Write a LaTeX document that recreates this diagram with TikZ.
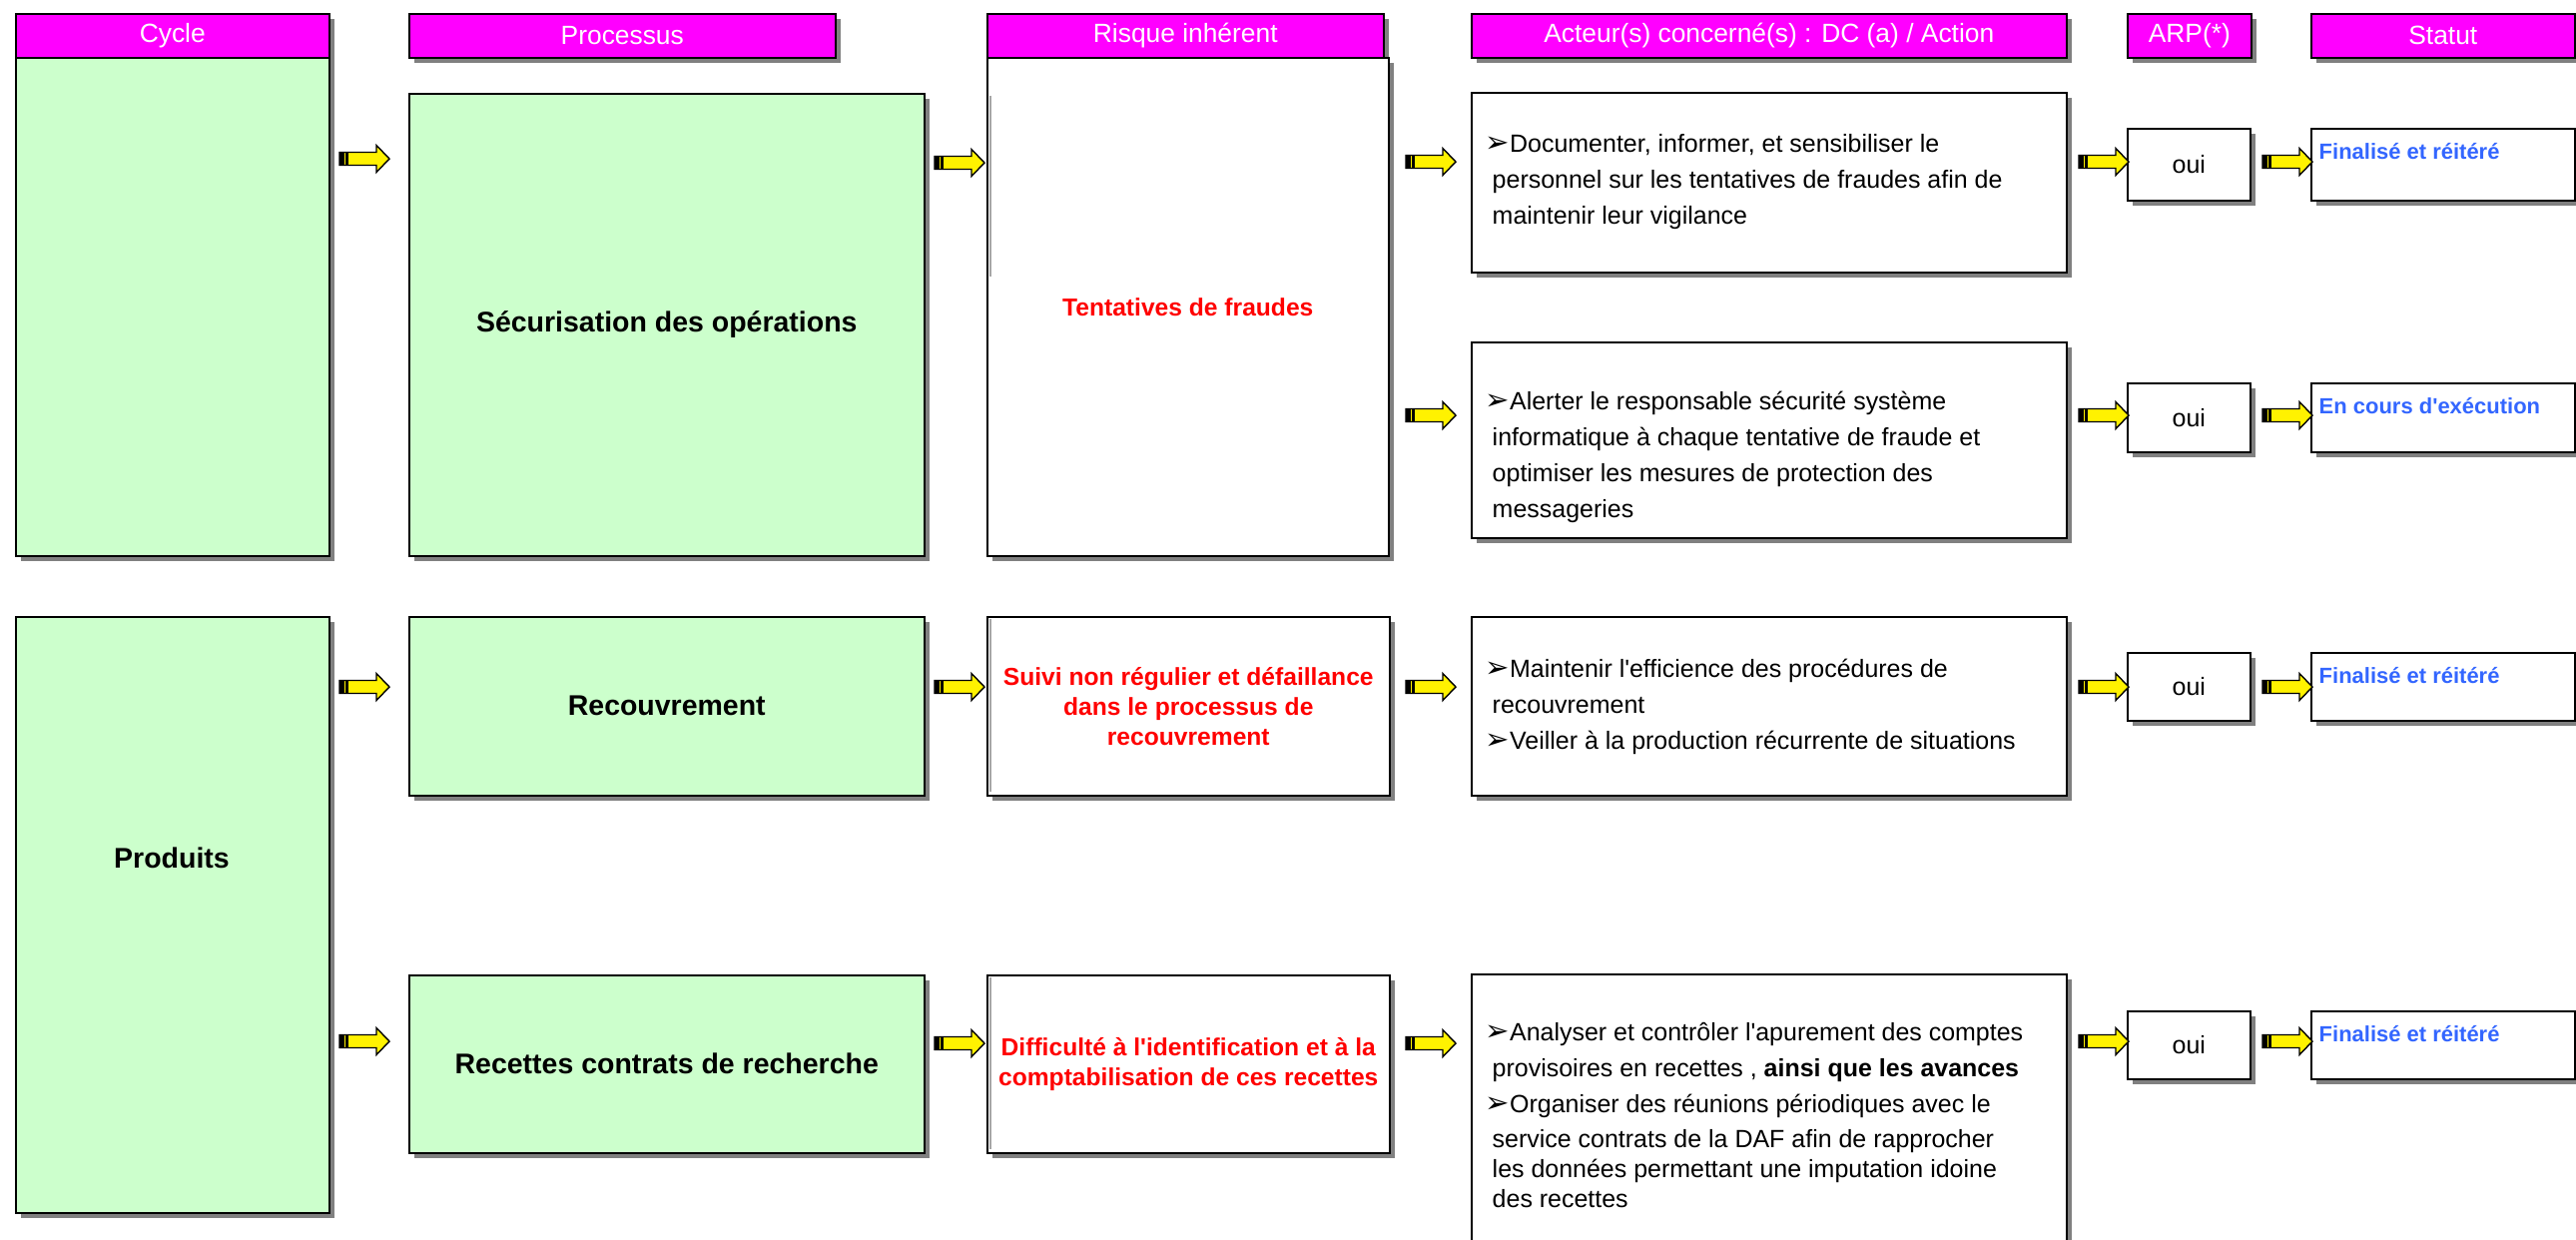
\documentclass[tikz,border=0pt]{standalone}
\usepackage{fontspec}
\setmainfont{Liberation Sans}
\newfontfamily\dingfont{DejaVu Sans}
\usepackage{xcolor}
\usetikzlibrary{shadows}
\definecolor{hdrmagenta}{RGB}{255,0,255}
\definecolor{boxgreen}{RGB}{204,255,204}
\definecolor{riskred}{RGB}{255,0,0}
\definecolor{statblue}{RGB}{51,102,255}
\definecolor{shadowgray}{RGB}{128,128,128}
\newcommand{\bul}{{\dingfont\fontsize{8.3}{8}\selectfont\char"27A2}}
\newcommand{\q}{\textquotesingle}

\begin{document}
\begin{tikzpicture}[x=0.01cm, y=-0.01cm,
    boxsize/.style 2 args={minimum width=#1*0.01cm, minimum height=#2*0.01cm},
    boxshadow/.style={drop shadow={shadow xshift=0.05cm, shadow yshift=-0.05cm, fill=shadowgray, opacity=1}},
    frame/.style={draw, line width=0.45pt, anchor=north west, inner sep=0pt, boxshadow},
    hdr/.style={frame, fill=hdrmagenta, text=white, font=\fontsize{7.5}{9}\selectfont},
    greenbox/.style={frame, fill=boxgreen, font=\bfseries\fontsize{8.1}{10}\selectfont},
    riskbox/.style={frame, fill=white, align=center, text=riskred, font=\bfseries\fontsize{7}{8.5}\selectfont},
    whitebox/.style={frame, fill=white, font=\fontsize{7.1}{9}\selectfont},
    acttext/.style={anchor=west, align=left, inner sep=0pt, font=\fontsize{7.1}{10.2}\selectfont},
    stattext/.style={anchor=base west, inner sep=0pt, text=statblue, font=\bfseries\fontsize{6.25}{8}\selectfont},
    yarrow/.pic={
        \filldraw[fill=yellow, line width=0.4pt, line join=miter]
            (0,-6.5) -- (37,-6.5) -- (37,-13.5) -- (50,0) -- (37,13.5) -- (37,6.5) -- (0,6.5) -- cycle;
        \fill[black] (0,-6.5) rectangle (5,6.5);
        \draw[line width=0.6pt] (7.5,-6.5) -- (7.5,6.5);
    },
]
    \fill[white] (0,0) rectangle (2580,1241);
    \useasboundingbox (0,0) rectangle (2580,1241);
    \clip (0,0) rectangle (2580,1241);

    % Header
    \node[hdr, boxsize={314}{44}] (hcyc) at (15,13) {Cycle};
    \node[hdr, boxsize={427}{44}] (hproc) at (409,13) {Processus};
    \node[hdr, boxsize={397}{44}] (hrisk) at (988,13) {Risque inhérent};
    \node[hdr, boxsize={596}{44}] (hact) at (1473,13) {Acteur(s) concerné(s) : DC (a) / Action};
    \node[hdr, boxsize={124}{44}] (harp) at (2130,13) {ARP(*)};
    \node[hdr, boxsize={264}{44}] (hstat) at (2314,13) {Statut};

    % Row 1: Sécurisation des opérations
    \node[greenbox, boxsize={314}{499}] (cyc1) at (15,57) {};
    \node[greenbox, boxsize={516}{463}] (proc1) at (409,93) {Sécurisation des opérations};
    \node[riskbox, boxsize={402}{499}] (risk1) at (988,57) {Tentatives de fraudes};
    \draw[black!35, line width=0.6pt] (992,96) -- (992,277); % faint inner line
    \node[whitebox, boxsize={596}{180}] (act1) at (1473,92) {};
    \node[whitebox, boxsize={596}{196}] (act2) at (1473,342) {};
    \node[acttext] (act1txt) at (1487,182) {\bul Documenter, informer, et sensibiliser le\\
        \hspace*{2pt}personnel sur les tentatives de fraudes afin de\\
        \hspace*{2pt}maintenir leur vigilance};
    \node[acttext] (act2txt) at (1487,458) {\bul Alerter le responsable sécurité système\\
        \hspace*{2pt}informatique à chaque tentative de fraude et\\
        \hspace*{2pt}optimiser les mesures de protection des\\
        \hspace*{2pt}messageries};
    \node[whitebox, boxsize={123}{72}] (arp1) at (2130,128) {oui};
    \node[whitebox, boxsize={123}{69}] (arp2) at (2130,383) {oui};
    \node[whitebox, boxsize={264}{72}] (stat1) at (2314,128) {};
    \node[whitebox, boxsize={264}{69}] (stat2) at (2314,383) {};
    \node[stattext] (stat1txt) at (2322,159) {Finalisé et réitéré};
    \node[stattext] (stat2txt) at (2322,414) {En cours d\q exécution};

    % Row 2: Produits / Recouvrement
    \node[greenbox, boxsize={314}{597}] (cyc2) at (15,617) {};
    \node[font=\bfseries\fontsize{8.1}{10}\selectfont] (cyc2txt) at (172,859) {Produits};
    \node[greenbox, boxsize={516}{179}] (proc2) at (409,617) {Recouvrement};
    \node[riskbox, boxsize={403}{179}] (risk2) at (988,617) {Suivi non régulier et défaillance\\dans le processus de\\recouvrement};
    \draw[black!35, line width=0.6pt] (992,620) -- (992,793);
    \node[whitebox, boxsize={596}{179}] (act3) at (1473,617) {};
    \node[acttext] (act3txt) at (1487,708) {\bul Maintenir l\q efficience des procédures de\\
        \hspace*{2pt}recouvrement\\
        \bul Veiller à la production récurrente de situations};
    \node[whitebox, boxsize={123}{68}] (arp3) at (2130,653) {oui};
    \node[whitebox, boxsize={264}{68}] (stat3) at (2314,653) {};
    \node[stattext] (stat3txt) at (2322,684) {Finalisé et réitéré};

    % Row 3: Recettes contrats de recherche
    \node[greenbox, boxsize={516}{178}] (proc3) at (409,976) {Recettes contrats de recherche};
    \node[riskbox, boxsize={403}{178}] (risk3) at (988,976) {Difficulté à l\q identification et à la\\comptabilisation de ces recettes};
    \draw[black!35, line width=0.6pt] (992,979) -- (992,1151);
    \node[whitebox, boxsize={596}{290}] (act4) at (1473,975) {};
    \node[acttext] (act4txt) at (1487,1117) {\bul Analyser et contrôler l\q apurement des comptes\\
        \hspace*{2pt}provisoires en recettes , \textbf{ainsi que les avances}\\
        \bul Organiser des réunions périodiques avec le\\
        \hspace*{2pt}service contrats de la DAF afin de rapprocher\\[-1.7pt]
        \hspace*{2pt}les données permettant une imputation idoine\\[-1.7pt]
        \hspace*{2pt}des recettes};
    \node[whitebox, boxsize={123}{68}] (arp4) at (2130,1012) {oui};
    \node[whitebox, boxsize={264}{68}] (stat4) at (2314,1012) {};
    \node[stattext] (stat4txt) at (2322,1043) {Finalisé et réitéré};

    % Arrows
    \pic (ar11) at (340,159) {yarrow};
    \pic (ar12) at (936,163) {yarrow};
    \pic (ar13) at (1408,162) {yarrow};
    \pic (ar14) at (1408,416) {yarrow};
    \pic (ar15) at (2082,162) {yarrow};
    \pic (ar16) at (2082,416) {yarrow};
    \pic (ar17) at (2266,162) {yarrow};
    \pic (ar18) at (2266,416) {yarrow};
    \pic (ar21) at (340,688) {yarrow};
    \pic (ar22) at (936,688) {yarrow};
    \pic (ar23) at (1408,688) {yarrow};
    \pic (ar24) at (2082,688) {yarrow};
    \pic (ar25) at (2266,688) {yarrow};
    \pic (ar31) at (340,1043) {yarrow};
    \pic (ar32) at (936,1045) {yarrow};
    \pic (ar33) at (1408,1045) {yarrow};
    \pic (ar34) at (2082,1043) {yarrow};
    \pic (ar35) at (2266,1043) {yarrow};
\end{tikzpicture}
\end{document}
